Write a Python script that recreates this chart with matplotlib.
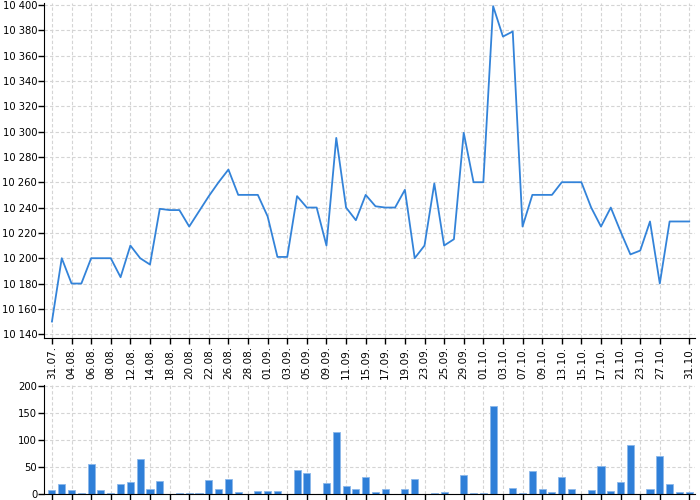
import matplotlib
matplotlib.use("Agg")
import matplotlib.pyplot as plt
from matplotlib.ticker import FuncFormatter

# trading days, 31.07 - 31.10
dates = ["31.07.", "01.08.", "04.08.", "05.08.", "06.08.", "07.08.", "08.08.", "11.08.",
         "12.08.", "13.08.", "14.08.", "15.08.", "18.08.", "19.08.", "20.08.", "21.08.",
         "22.08.", "25.08.", "26.08.", "27.08.", "28.08.", "29.08.", "01.09.", "02.09.",
         "03.09.", "04.09.", "05.09.", "08.09.", "09.09.", "10.09.", "11.09.", "12.09.",
         "15.09.", "16.09.", "17.09.", "18.09.", "19.09.", "22.09.", "23.09.", "24.09.",
         "25.09.", "26.09.", "29.09.", "30.09.", "01.10.", "02.10.", "03.10.", "06.10.",
         "07.10.", "08.10.", "09.10.", "10.10.", "13.10.", "14.10.", "15.10.", "16.10.",
         "17.10.", "20.10.", "21.10.", "22.10.", "23.10.", "24.10.", "27.10.", "28.10.",
         "30.10.", "31.10."]

price = [10150, 10200, 10180, 10180, 10200, 10200, 10200, 10185, 10210, 10200,
         10195, 10239, 10238, 10238, 10225, 10237, 10249, 10260, 10270, 10250,
         10250, 10250, 10233, 10201, 10201, 10249, 10240, 10240, 10210, 10295,
         10240, 10230, 10250, 10241, 10240, 10240, 10254, 10200, 10210, 10259,
         10210, 10215, 10299, 10260, 10260, 10399, 10375, 10379, 10225, 10250,
         10250, 10250, 10260, 10260, 10260, 10240, 10225, 10240, 10221, 10203,
         10206, 10229, 10180, 10229, 10229, 10229]

volume = [8, 18, 7, 1, 56, 8, 1, 18, 23, 64,
          10, 25, 0, 1, 1, 1, 26, 10, 28, 3,
          0, 6, 6, 5, 0, 44, 39, 0, 20, 114,
          15, 9, 32, 4, 10, 0, 10, 28, 0, 1,
          3, 0, 35, 1, 2, 164, 0, 12, 1, 42,
          10, 4, 31, 10, 0, 7, 52, 6, 23, 91,
          0, 10, 70, 18, 4, 4]

tick_idx = list(range(0, 63, 2)) + [65]
x = list(range(len(dates)))

fig = plt.figure(figsize=(7, 5), dpi=100)
ax1 = fig.add_axes([0.063, 0.324, 0.93, 0.67])
ax2 = fig.add_axes([0.063, 0.012, 0.93, 0.218])

grid_kw = dict(color="#d4d4d4", linestyle=(0, (3, 2)), linewidth=0.8)

ax1.plot(x, price, color="#3383d9", linewidth=1.3)
ax1.set_ylim(10137, 10401.5)
ax1.set_yticks(range(10140, 10401, 20))
ax1.yaxis.set_major_formatter(FuncFormatter(lambda v, p: f"{int(v):,}".replace(",", " ")))
ax1.set_xticks(tick_idx)
ax1.set_xticklabels([dates[i] for i in tick_idx], rotation=90)

ax2.bar(x, volume, width=0.72, color="#2f7fd8", edgecolor="#8bb8ea", linewidth=0.6)
ax2.set_ylim(0, 202)
ax2.set_yticks([0, 50, 100, 150, 200])
ax2.set_xticks(tick_idx)
ax2.set_xticklabels([])

for ax in (ax1, ax2):
    ax.set_xlim(-0.8, 65.6)
    ax.grid(True, **grid_kw)
    ax.set_axisbelow(True)
    ax.spines["top"].set_visible(False)
    ax.spines["right"].set_visible(False)
    ax.tick_params(length=4, width=1, pad=1)
    ax.tick_params(axis="y", labelsize=7.2)
    ax.tick_params(axis="x", labelsize=7.5, pad=2)

fig.savefig("out.png", dpi=100)
